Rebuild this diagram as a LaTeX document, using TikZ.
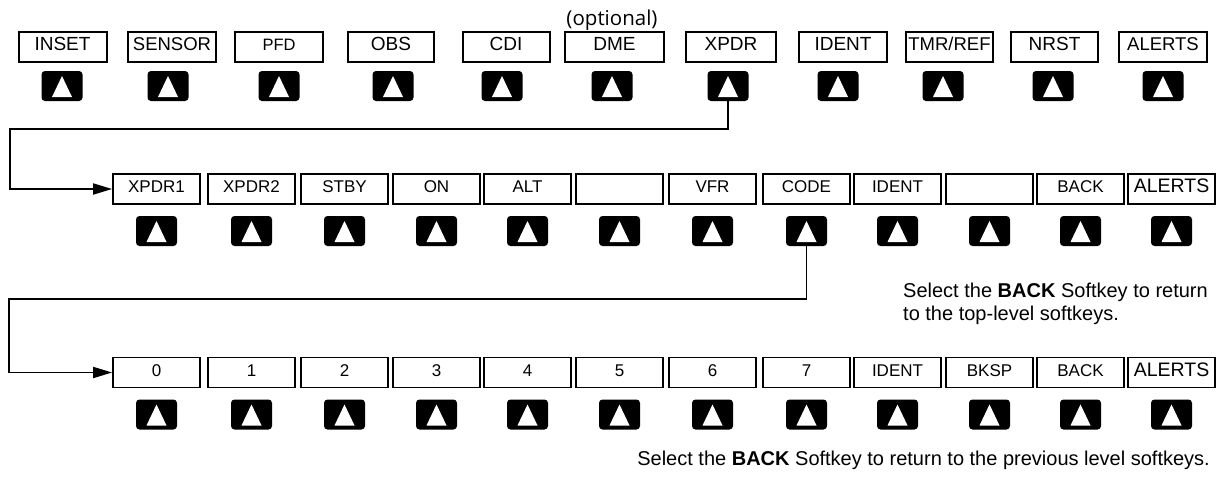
\documentclass[tikz,border=0pt]{standalone}
\usepackage{fontspec}
\setmainfont{Liberation Sans}
\newfontfamily\optfont{Open Sans}
\usetikzlibrary{arrows.meta}
\begin{document}
\begin{tikzpicture}[x=1pt,y=-1pt,
  skbox/.style={draw=black, line width=2pt, fill=white, minimum width=88pt, minimum height=30pt, inner sep=0pt, text height=0.72em, text depth=0pt},
  skbox2/.style={skbox, minimum width=87pt, line width=1.8pt},
  skkey/.style={fill=black, rounded corners=3.5pt, minimum width=41pt, minimum height=30pt, inner sep=0pt,
    path picture={\fill[white, sharp corners] ([shift={(-10pt,-11pt)}]path picture bounding box.center) -- ([shift={(10pt,-11pt)}]path picture bounding box.center) -- ([shift={(0pt,10pt)}]path picture bounding box.center) -- cycle;}},
  conn/.style={line width=1.8pt, -{Triangle[length=19pt,width=11pt]}},
  caption/.style={font=\fontsize{20}{23}\selectfont, inner sep=0pt}
]
\useasboundingbox (0,0) rectangle (1225,482);

% top row
\foreach \i/\x/\kx/\w/\t/\s in {1/62.5/62/88/INSET/19, 2/172/168/88/SENSOR/18.5, 3/279/279/88/PFD/16.5, 4/391/393/86/OBS/19, 5/506/502/87/CDI/19, 6/614.5/612/99/DME/19, 7/731/728/90/XPDR/19, 8/843/838/88/IDENT/19, 9/949.5/943/87/{TMR/REF}/18.5, 10/1054.5/1053/87/NRST/19, 11/1163/1163/88/ALERTS/18.5}
{
  \node[skbox, minimum width=\w pt, font=\fontsize{\s}{20}\selectfont] (t\i) at (\x,47) {\t};
  \node[skkey] (tk\i) at (\kx,86) {};
}
\node[font=\optfont\fontsize{20.5}{24}\selectfont, inner sep=0pt] (opt) at (612,20) {(optional)};

% second row
\foreach \i/\x/\t/\s in {1/156.5/XPDR1/17, 2/251.5/XPDR2/17, 3/344.5/STBY/17, 4/436.5/ON/17, 5/527.5/ALT/17, 6/619.5//17, 7/712.5/VFR/17, 8/806.5/CODE/17, 9/897.5/IDENT/17, 10/989.5//17, 11/1080.5/BACK/17, 12/1171.5/ALERTS/19.5}
{
  \node[skbox2, font=\fontsize{\s}{20}\selectfont] (m\i) at (\x,189) {\t};
  \node[skkey] (mk\i) at (\x,231) {};
}

% third row
\foreach \i/\x/\t/\s in {1/156.5/0/17, 2/251.5/1/17, 3/344.5/2/17, 4/436.5/3/17, 5/527.5/4/17, 6/619.5/5/17, 7/712.5/6/17, 8/806.5/7/17, 9/897.5/IDENT/17, 10/989.5/BKSP/17, 11/1080.5/BACK/17, 12/1171.5/ALERTS/19.5}
{
  \node[skbox2, font=\fontsize{\s}{20}\selectfont] (b\i) at (\x,372.5) {\t};
  \node[skkey] (bk\i) at (\x,414.5) {};
}

% connectors
\coordinate (c1) at (10,189);
\draw[conn] (tk7.south) -- ++(0,28) -| (c1) -- (m1.west);
\coordinate (c2) at (9,372.5);
\draw[conn] (mk8.south) -- ++(0,53) -| (c2) -- (b1.west);

% captions
\node[caption, anchor=base west] (cap1a) at (903,297) {Select the \textbf{BACK} Softkey to return};
\node[caption, anchor=base west] (cap1b) at (903,320) {to the top-level softkeys.};
\node[caption, anchor=base east] (cap2) at (1210,465) {Select the \textbf{BACK} Softkey to return to the previous level softkeys.};
\end{tikzpicture}
\end{document}
